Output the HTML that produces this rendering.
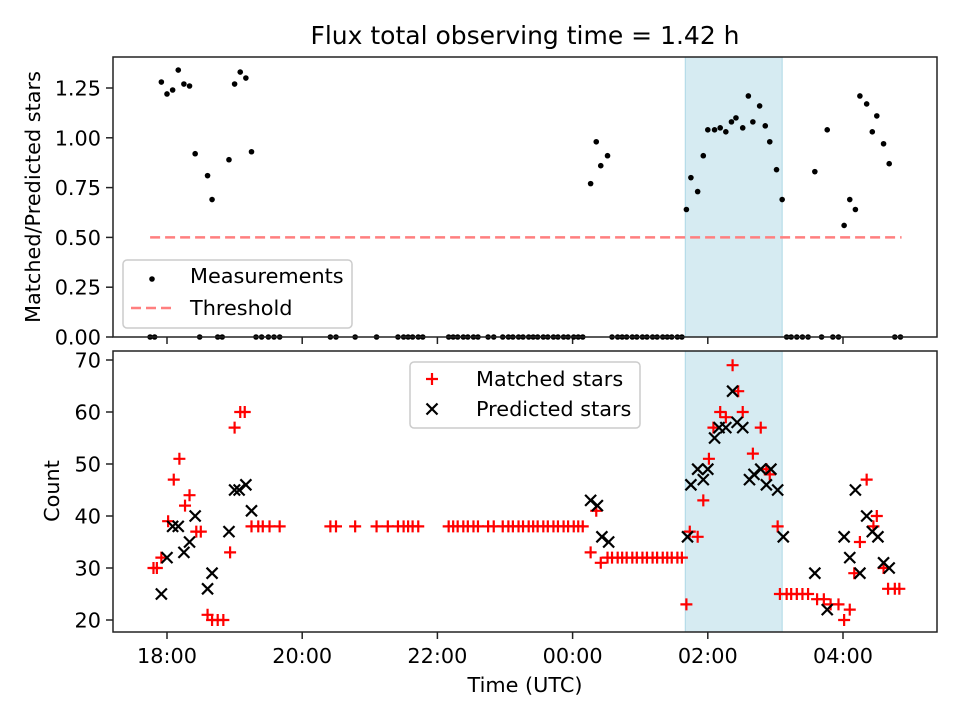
<!DOCTYPE html>
<html><head><meta charset="utf-8"><style>
body{margin:0;background:#fff;}
svg text{font-family:"DejaVu Sans","Liberation Sans",sans-serif;fill:#000;}
</style></head><body>
<svg id="chart" width="960" height="720" xmlns="http://www.w3.org/2000/svg">
<text x="525" y="44" font-size="25" text-anchor="middle">Flux total observing time = 1.42 h</text>
<g id="topPanel"></g>
<g id="botPanel"></g>
<text x="525" y="692" font-size="20.8" text-anchor="middle">Time (UTC)</text>
<text transform="translate(40,197) rotate(-90)" font-size="20.8" text-anchor="middle">Matched/Predicted stars</text>
<text transform="translate(59,491) rotate(-90)" font-size="20.8" text-anchor="middle">Count</text>
</svg>
<script>
// minutes since 18:00 UTC
const measTimes=[-5,0,5,10,15,20,25,36,40,55,60,65,70,75,376,381,385,391,461,465,471,476,480,486,491,496,501,505,511,516,520,526,531,535,541,546,575,586,601,606,611,615,621,626,630,636,641];
const measValues=[1.28,1.22,1.24,1.34,1.27,1.26,0.92,0.81,0.69,0.89,1.27,1.33,1.30,0.93,0.77,0.98,0.86,0.91,0.64,0.80,0.73,0.91,1.04,1.04,1.05,1.03,1.08,1.10,1.05,1.21,1.08,1.16,1.06,0.98,0.84,0.69,0.83,1.04,0.56,0.69,0.64,1.21,1.17,1.03,1.11,0.97,0.87];
const zeroTimes=[-15,-11,29,45,49,79,84,90,95,100,145,150,167,186,205,210,214,218,223,227,250,254,258,263,267,272,276,285,290,298,303,307,312,316,321,325,329,334,338,343,347,352,356,361,365,369,395,400,404,408,413,417,422,426,431,435,440,444,448,453,457,550,554,559,564,569,581,591,596,646,651];
const matchedTimes=[-12,-9,-5,1,6,11,16,20,26,30,36,40,45,50,56,60,65,69,75,81,85,91,100,145,150,167,186,196,205,210,214,218,223,250,254,258,263,267,272,276,285,290,298,303,307,312,316,321,325,329,334,338,343,347,352,356,361,365,369,376,381,385,391,395,400,404,408,413,417,422,426,431,435,440,444,448,453,457,461,464,471,476,481,485,491,496,502,507,511,520,527,532,535,542,544,550,554,559,564,569,577,583,589,596,601,606,610,615,621,627,630,636,640,646,650];
const matchedValues=[30,30,32,39,47,51,42,44,37,37,21,20,20,20,33,57,60,60,38,38,38,38,38,38,38,38,38,38,38,38,38,38,38,38,38,38,38,38,38,38,38,38,38,38,38,38,38,38,38,38,38,38,38,38,38,38,38,38,38,33,41,31,32,32,32,32,32,32,32,32,32,32,32,32,32,32,32,32,23,37,36,43,51,57,60,59,69,64,60,52,57,49,48,38,25,25,25,25,25,25,24,24,23,23,20,22,29,35,47,38,40,30,26,26,26];
const predTimes=[-5,0,5,10,15,20,25,36,40,55,60,64,70,75,376,382,386,392,462,465,471,476,480,486,490,496,502,506,511,517,521,527,532,536,542,547,575,586,601,606,611,615,621,626,631,636,641];
const predValues=[25,32,38,38,33,35,40,26,29,37,45,45,46,41,43,42,36,35,36,46,49,47,49,55,57,57,64,58,57,47,48,49,46,49,45,36,29,22,36,32,45,29,40,37,36,31,30];
const shadeStart=460, shadeEnd=546, threshold=0.5, threshStart=-15, threshEnd=652;
const xTickMins=[0,120,240,360,480,600];
const xTickLabels=["18:00","20:00","22:00","00:00","02:00","04:00"];
const topTicks=[0,0.25,0.5,0.75,1.0,1.25];
const topTickLabels=["0.00","0.25","0.50","0.75","1.00","1.25"];
const botTicks=[20,30,40,50,60,70];

const NS="http://www.w3.org/2000/svg";
const AL=113,AR=937;
const xScale=m=>167+m*67.6/60;
const yTop=v=>337-v*199.2;
const yBot=v=>620-(v-20)*5.2;
function mk(parent,tag,attrs){const e=document.createElementNS(NS,tag);for(const k in attrs)e.setAttribute(k,attrs[k]);parent.appendChild(e);return e;}
function panel(g,t0,b0,ticks,labels,yf,name){
  const s=mk(g,'rect',{x:xScale(shadeStart),y:t0,width:xScale(shadeEnd)-xScale(shadeStart),height:b0-t0,fill:'#add8e6','fill-opacity':0.5,stroke:'#add8e6'});
  
  
  ticks.forEach((t,i)=>{const y=yf(t);
    mk(g,'line',{x1:AL-7,x2:AL,y1:y,y2:y,stroke:'#222','stroke-width':1.5});
    const tx=mk(g,'text',{x:AL-12,y:y+7.5,'font-size':20.8,'text-anchor':'end'});tx.textContent=labels[i];
    
    
  });
  xTickMins.forEach(m=>mk(g,'line',{x1:xScale(m),x2:xScale(m),y1:b0,y2:b0+7,stroke:'#222','stroke-width':1.5}));
}
const topG=document.getElementById('topPanel'), botG=document.getElementById('botPanel');
panel(topG,57,337,topTicks,topTickLabels,yTop,'top');
panel(botG,351,632,botTicks,botTicks.map(String),yBot,'bottom');
const th=mk(topG,'line',{x1:xScale(threshStart),x2:xScale(threshEnd),y1:yTop(threshold),y2:yTop(threshold),stroke:'#ff7f7f','stroke-width':2.5,'stroke-dasharray':'10,5'});


measTimes.forEach((m,i)=>{const c=mk(topG,'circle',{cx:xScale(m),cy:yTop(measValues[i]),r:2.8,fill:'#000'});
  
  });
zeroTimes.forEach(m=>{const c=mk(topG,'circle',{cx:xScale(m),cy:yTop(0),r:2.8,fill:'#000'});
  
  });
matchedTimes.forEach((m,i)=>{const x=xScale(m),y=yBot(matchedValues[i]);
  const p=mk(botG,'path',{d:`M${x-6},${y}H${x+6}M${x},${y-6}V${y+6}`,stroke:'#f00','stroke-width':2.2});
  
  });
predTimes.forEach((m,i)=>{const x=xScale(m),y=yBot(predValues[i]);
  const p=mk(botG,'path',{d:`M${x-5.5},${y-5.5}L${x+5.5},${y+5.5}M${x-5.5},${y+5.5}L${x+5.5},${y-5.5}`,stroke:'#000','stroke-width':2.2});
  
  });
[[topG,57,337],[botG,351,632]].forEach(([g,t0,b0])=>{const f=mk(g,'rect',{x:AL,y:t0,width:AR-AL,height:b0-t0,fill:'none',stroke:'#222','stroke-width':1.5});
  
  });
xTickMins.forEach((m,i)=>{const t=mk(botG,'text',{x:xScale(m),y:663,'font-size':20.8,'text-anchor':'middle'});t.textContent=xTickLabels[i];
  
  });
const lg1=mk(topG,'g',{});


mk(lg1,'rect',{x:123,y:260,width:229,height:68,rx:4,fill:'#fff','fill-opacity':0.8,stroke:'#ccc','stroke-width':1.5});
mk(lg1,'circle',{cx:152,cy:279,r:2.8,fill:'#000'});
let lt=mk(lg1,'text',{x:190,y:283,'font-size':20.8});lt.textContent='Measurements';
mk(lg1,'line',{x1:131,x2:174,y1:308,y2:308,stroke:'#ff7f7f','stroke-width':2.5,'stroke-dasharray':'10,5'});
lt=mk(lg1,'text',{x:190,y:315,'font-size':20.8});lt.textContent='Threshold';
const lg2=mk(botG,'g',{});


mk(lg2,'rect',{x:410,y:362,width:230,height:66,rx:4,fill:'#fff','fill-opacity':0.8,stroke:'#ccc','stroke-width':1.5});
mk(lg2,'path',{d:'M426,379H438M432,373V385',stroke:'#f00','stroke-width':2.2});
lt=mk(lg2,'text',{x:476,y:386,'font-size':20.8});lt.textContent='Matched stars';
mk(lg2,'path',{d:'M426.5,403.5L437.5,414.5M426.5,414.5L437.5,403.5',stroke:'#000','stroke-width':2.2});
lt=mk(lg2,'text',{x:476,y:416,'font-size':20.8});lt.textContent='Predicted stars';
</script>
</body></html>
